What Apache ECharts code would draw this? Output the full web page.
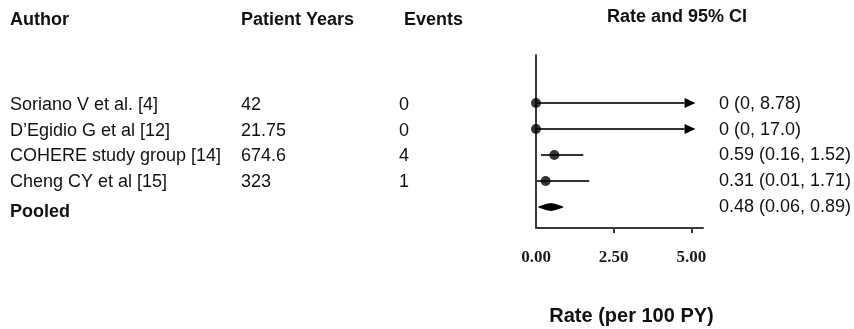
<!DOCTYPE html>
<html>
<head>
<meta charset="utf-8">
<script src="https://cdn.jsdelivr.net/npm/echarts@6/dist/echarts.min.js"></script>
<style>html,body{margin:0;padding:0;background:#fff}#c{width:854px;height:329px}</style>
</head>
<body>
<div id="c"></div>
<script>
const headers = ['Author', 'Patient Years', 'Events', 'Rate and 95% CI'];
const authors = ['Soriano V et al. [4]', 'D\u2019Egidio G et al [12]', 'COHERE study group [14]', 'Cheng CY et al [15]', 'Pooled'];
const patientYears = ['42', '21.75', '674.6', '323', ''];
const events = ['0', '0', '4', '1', ''];
const rates = [0, 0, 0.59, 0.31, 0.48];
const lower = [0, 0, 0.16, 0.01, 0.06];
const upper = [8.78, 17.0, 1.52, 1.71, 0.89];
const ciText = ['0 (0, 8.78)', '0 (0, 17.0)', '0.59 (0.16, 1.52)', '0.31 (0.01, 1.71)', '0.48 (0.06, 0.89)'];
const xTickValues = [0, 2.5, 5];
const xTickMarks = [2.5, 5];
const axisTitle = 'Rate (per 100 PY)';

const X_MAX = 5.37;
const ARROW_CAP = 5.13;
const POOLED = authors.length - 1;
const SANS = 'Liberation Sans, Arial, sans-serif';
const INK = '#111';
const LINE = '#333';

const chart = echarts.init(document.getElementById('c'), null, {renderer: 'canvas'});

const studyRows = rates.slice(0, POOLED).map((r, i) => [lower[i], upper[i], r, i]);
const tableRows = authors.map((a, i) => [0, i]);

const colX = [10, 241, 399, 719];
const colDy = [1.5, 1.5, 1.5, 0.5];

const option = {
  animation: false,
  backgroundColor: '#fff',
  grid: {left: 536, right: 151, top: 55, bottom: 101, containLabel: false, outerBoundsMode: 'none'},
  xAxis: {
    type: 'value', min: 0, max: X_MAX,
    splitLine: {show: false},
    axisLine: {show: true, onZero: false, lineStyle: {color: '#3a3a3a', width: 2}},
    axisTick: {show: true, customValues: xTickMarks, length: 5, lineStyle: {color: '#3a3a3a', width: 2}},
    axisLabel: {
      show: true, customValues: xTickValues, margin: 21,
      formatter: v => v.toFixed(2),
      fontFamily: 'Liberation Serif, Times New Roman, serif', fontWeight: 'bold', fontSize: 17, color: '#1a1a1a'
    },
    name: axisTitle, nameLocation: 'middle', nameGap: 78,
    nameTextStyle: {fontFamily: SANS, fontWeight: 'bold', fontSize: 20, color: INK, padding: [0, 0, 0, 24]}
  },
  yAxis: {
    type: 'value', inverse: true, min: -1.85, max: 4.81,
    splitLine: {show: false},
    axisLine: {show: true, onZero: false, lineStyle: {color: '#3a3a3a', width: 2}},
    axisTick: {show: false}, axisLabel: {show: false}
  },
  graphic: headers.map((h, i) => ({
    type: 'text',
    left: i === 3 ? undefined : [10, 241, 404][i],
    x: i === 3 ? 677 : undefined,
    top: i === 3 ? 8 : 11,
    style: {
      text: h, fill: INK, font: 'bold 18px ' + SANS,
      textAlign: i === 3 ? 'center' : 'left'
    }
  })),
  series: [
    {
      type: 'custom', name: 'ci', data: studyRows, clip: false, z: 3,
      renderItem: function (params, api) {
        const lo = api.value(0), hi = api.value(1), row = api.value(3);
        const p1 = api.coord([lo, row]);
        const capped = hi > X_MAX;
        const p2 = api.coord([capped ? ARROW_CAP : hi, row]);
        const children = [];
        if (capped) {
          const headLen = 11, headH = 5;
          children.push({type: 'line', shape: {x1: p1[0], y1: p1[1], x2: p2[0] - headLen, y2: p2[1]},
            style: {stroke: LINE, lineWidth: 2}});
          children.push({type: 'polygon', shape: {points: [[p2[0], p2[1]], [p2[0] - headLen, p2[1] - headH], [p2[0] - headLen, p2[1] + headH]]},
            style: {fill: '#000'}});
        } else {
          children.push({type: 'line', shape: {x1: p1[0], y1: p1[1], x2: p2[0], y2: p2[1]},
            style: {stroke: LINE, lineWidth: 2}});
        }
        return {type: 'group', children: children};
      }
    },
    {
      type: 'scatter', name: 'rate', data: studyRows.map(d => [d[2], d[3]]),
      symbol: 'circle', symbolSize: 10, itemStyle: {color: '#000'}, z: 4, clip: false
    },
    {
      type: 'custom', name: 'pooled', data: [[lower[POOLED], rates[POOLED], upper[POOLED], POOLED]], clip: false, z: 4,
      renderItem: function (params, api) {
        const row = api.value(3);
        const a = api.coord([api.value(0), row]);
        const m = api.coord([api.value(1), row]);
        const b = api.coord([api.value(2), row]);
        return {type: 'polygon', shape: {points: [a, [m[0], m[1] - 4], b, [m[0], m[1] + 4]], smooth: 0.15},
          style: {fill: '#000'}};
      }
    },
    {
      type: 'custom', name: 'table', data: tableRows, clip: false, silent: true,
      renderItem: function (params, api) {
        const i = api.value(1);
        const y = api.coord([0, i])[1];
        const cols = [authors[i], patientYears[i], events[i], ciText[i]];
        const pooled = i === POOLED;
        return {
          type: 'group',
          children: cols.map((t, c) => ({
            type: 'text', x: colX[c], y: y + colDy[c] + (pooled && c === 0 ? 4 : 0),
            style: {
              text: t, fill: INK, textAlign: 'left', textVerticalAlign: 'middle',
              font: ((pooled && c === 0) ? 'bold ' : '') + '18px ' + SANS
            }
          }))
        };
      }
    }
  ]
};
chart.setOption(option);
</script>
</body>
</html>
